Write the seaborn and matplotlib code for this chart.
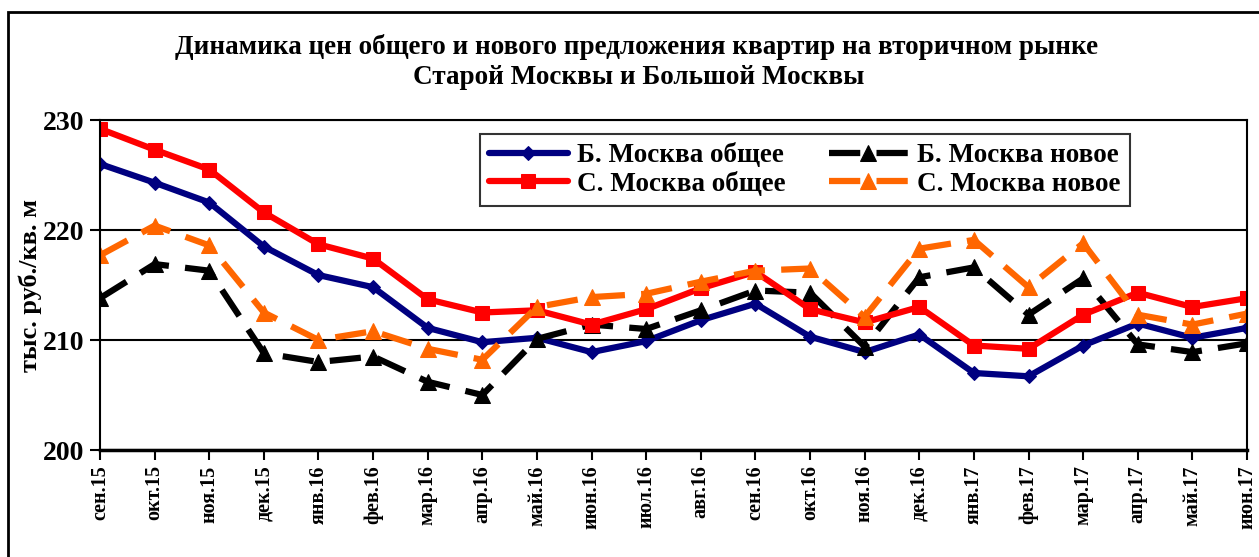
import numpy as np
import pandas as pd
import seaborn as sns
import matplotlib.pyplot as plt
from matplotlib.patches import Rectangle

# months
months = ["сен.15", "окт.15", "ноя.15", "дек.15", "янв.16", "фев.16", "мар.16",
          "апр.16", "май.16", "июн.16", "июл.16", "авг.16", "сен.16", "окт.16",
          "ноя.16", "дек.16", "янв.17", "фев.17", "мар.17", "апр.17", "май.17", "июн.17"]

# values, тыс. руб./кв. м
b_total = [226.0, 224.3, 222.5, 218.5, 215.9, 214.8, 211.1, 209.8, 210.2, 208.9, 209.9,
           211.8, 213.3, 210.3, 208.9, 210.5, 207.0, 206.7, 209.5, 211.5, 210.2, 211.1]
s_total = [229.2, 227.3, 225.5, 221.6, 218.7, 217.4, 213.7, 212.5, 212.7, 211.4, 212.8,
           214.7, 216.2, 212.8, 211.6, 213.0, 209.5, 209.2, 212.3, 214.3, 213.0, 213.8]
b_new = [213.8, 216.9, 216.3, 208.8, 208.0, 208.5, 206.2, 205.0, 210.1, 211.4, 211.0,
         212.7, 214.5, 214.3, 209.4, 215.7, 216.6, 212.3, 215.6, 209.6, 208.9, 209.7]
s_new = [217.7, 220.4, 218.6, 212.5, 210.0, 210.8, 209.2, 208.2, 213.0, 213.9, 214.2,
         215.3, 216.3, 216.5, 212.1, 218.3, 219.1, 214.8, 218.8, 212.3, 211.4, 212.4]

sns.set_style("white")
plt.rcParams["font.family"] = ["Liberation Serif", "DejaVu Serif"]
plt.rcParams["font.weight"] = "bold"
plt.rcParams["text.color"] = "black"
plt.rcParams["axes.labelcolor"] = "black"
plt.rcParams["xtick.color"] = "black"
plt.rcParams["ytick.color"] = "black"

fig = plt.figure(figsize=(12.59, 5.57), dpi=100)
ax = fig.add_axes([100 / 1259, 1 - 450 / 557, 1147 / 1259, 330 / 557])

x = np.arange(len(months))
lw = 4.5
dash = (0, (5, 2.6))

sns.lineplot(x=x, y=b_total, ax=ax, color="#000080", lw=lw, marker="D",
             markersize=7, markeredgecolor="#000080", label="Б. Москва общее")
sns.lineplot(x=x, y=b_new, ax=ax, color="black", lw=lw, linestyle=dash, marker="^",
             markersize=11, markeredgecolor="black", label="Б. Москва новое")
sns.lineplot(x=x, y=s_total, ax=ax, color="#ff0000", lw=lw, marker="s",
             markersize=10, markeredgecolor="#ff0000", label="С. Москва общее")
sns.lineplot(x=x, y=s_new, ax=ax, color="#ff6600", lw=lw, linestyle=dash, marker="^",
             markersize=11, markeredgecolor="#ff6600", label="С. Москва новое")

ax.set_xlim(0, len(months) - 1)
ax.set_ylim(200, 230)
ax.set_yticks([200, 210, 220, 230])
ax.set_xticks(x)
ax.set_xticklabels(months, rotation=90, fontsize=14.5, fontweight="bold")
ax.tick_params(axis="y", labelsize=20, direction="out", length=7, width=1.5,
               left=True, pad=4, colors="black")
ax.tick_params(axis="x", direction="out", length=7, width=1.5, bottom=True, pad=4,
               colors="black")
for lab in ax.get_yticklabels():
    lab.set_fontweight("bold")

ax.grid(axis="y", color="black", lw=1.5)
ax.grid(axis="x", visible=False)
for s in ax.spines.values():
    s.set_color("black")
    s.set_linewidth(1.5)
ax.spines["bottom"].set_linewidth(2.5)

ax.set_ylabel("тыс. руб./кв. м", fontsize=19, fontweight="bold", color="black")
ax.yaxis.set_label_coords(-0.051, 0.5)

# legend order: column-wise
h, lbl = ax.get_legend_handles_labels()
order = [0, 2, 1, 3]
leg = ax.legend([h[i] for i in order], [lbl[i] for i in order], ncol=2,
                loc="upper left", bbox_to_anchor=(0.331, 0.958),
                frameon=True, fancybox=False, edgecolor="black", handlelength=2.9,
                handletextpad=0.35, columnspacing=1.6, borderpad=0.35, labelspacing=0.12,
                borderaxespad=0, prop={"weight": "bold", "size": 19.5})
leg.get_frame().set_linewidth(1.5)
for t in leg.get_texts():
    t.set_color("black")

fig.text(637 / 1259, 1 - 47 / 557,
         "Динамика цен общего и нового предложения квартир на вторичном рынке",
         ha="center", va="center", fontsize=19.5, fontweight="bold", color="black")
fig.text(639 / 1259, 1 - 78 / 557, "Старой Москвы и Большой Москвы",
         ha="center", va="center", fontsize=19.5, fontweight="bold", color="black")

# outer frame
fig.patches.append(Rectangle((8 / 1259, -0.2), 1.2, 1 - 12 / 557 + 0.2, transform=fig.transFigure,
                             fill=False, edgecolor="black", lw=2))

fig.savefig("out.png", dpi=100)
